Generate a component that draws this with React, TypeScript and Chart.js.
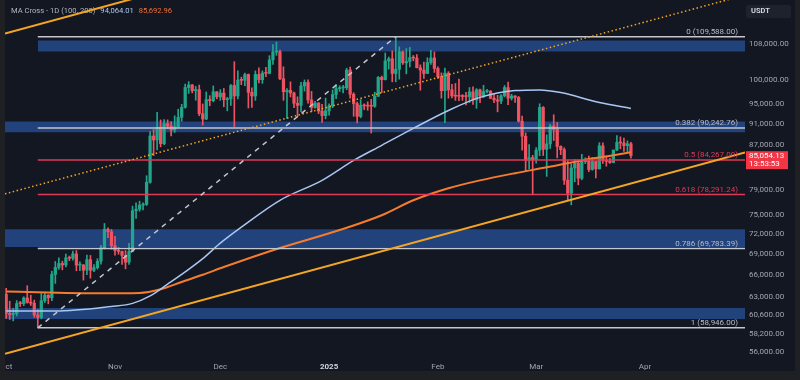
import React, { useEffect, useRef } from "react";
import { Chart, registerables } from "chart.js";

Chart.register(...registerables);

const FONT = "Roboto, 'Noto Sans', sans-serif";

// ---- Daily candles, 1 Oct 2024 (day 0) to 28 Mar 2025 (day 178) ----
const open = [
  63330,60800,60650,60750,62080,62060,62820,62220,62130,60580,60270,62450,63190,62850,66050,67040,67610,67400,68420,68370,69000,67370,67380,66650,68160,66640,67010,67930,69910,72720,72340,
  70220,69500,69370,68780,67800,69360,75640,75900,76550,76680,80370,88700,87960,90380,87270,91050,90590,89850,90460,92310,94290,98350,98890,97670,97900,93010,91960,95860,95640,97460,
  96410,97190,95840,96000,98770,96590,99920,99870,101110,97340,96590,101130,100000,101420,101370,104300,106060,106140,100200,97460,97760,97220,95100,94690,98680,99430,95790,94270,95160,93530,92640,
  93580,94590,96890,98110,98240,98310,102080,96950,95040,92480,94700,94570,94520,94500,96530,100500,99990,104080,104560,101330,102260,106140,103650,103960,104820,104710,102580,102080,101330,103730,104730,
  102430,100650,97690,101400,97870,96620,96550,96530,96480,96470,97430,95780,97870,96610,97500,97570,96120,95770,95540,96630,98340,96130,96580,96280,91550,88650,84250,84710,
  84350,86060,94270,86220,87220,90620,89960,86740,86150,80730,78530,82860,83720,81070,83970,84340,82580,84010,82720,86850,84170,84040,83830,86080,87500,87390,86900,87230,
];
const high = [
  64130,62390,61470,62480,62370,62980,64480,63200,62540,61300,63420,63480,63280,66500,67900,68420,67940,68970,68690,69400,69500,67830,67470,68830,68780,67450,68300,70270,73620,72960,72700,
  71630,69950,69420,69500,70580,76400,76950,77200,76950,81500,89530,89940,93270,91790,91850,91800,91450,92590,93900,94900,99070,99590,98990,98580,98870,94970,97420,96650,98690,97490,
  97900,98150,96300,99000,103900,101900,100550,101400,101230,98270,101900,102540,101890,102650,105250,107790,108350,106520,102800,98150,99540,97400,96420,99420,99960,99960,97540,95500,95230,94900,96150,
  95000,97840,98980,98730,98810,102480,102720,97260,95350,95840,94980,95400,95900,97370,100680,100780,105850,104950,106320,109588,107240,106330,106850,107120,105290,105500,103220,103800,104780,106460,106090,
  102780,101460,102500,101730,99000,99200,100140,96880,97320,98350,98480,98120,98000,98830,97970,97730,97050,96730,96900,98770,99500,96950,96680,96500,92530,89290,87070,85120,
  86560,95000,94420,88910,90990,92810,91280,86870,86500,84120,83620,84360,84300,85300,84670,85000,84750,84020,87450,87440,84780,84570,86100,88770,88540,88290,87790,87510,
];
const low = [
  60160,60000,59830,60460,61690,61800,62130,61820,60280,58946,60090,62210,62040,62450,64800,66750,66700,67130,68010,68100,66570,66570,65260,66000,65520,66450,66800,67520,69730,71440,69700,
  68800,68950,67460,66840,67460,69300,74420,75560,75780,76500,80220,85070,86130,86670,87080,90090,88720,89380,90360,91500,94120,97120,97230,95720,92600,90770,91820,94600,95380,96000,
  95700,94400,93580,94660,90500,95980,98950,98760,94150,94260,95700,99310,99210,100630,101230,103330,105320,100000,95700,92100,96400,94200,92400,93420,97600,95140,93400,94120,93020,91300,92000,
  92740,94200,96020,97530,97240,97900,96130,92500,91200,92200,93830,93700,89260,94300,96500,97300,99950,102280,99550,99550,100120,103300,101250,102750,104100,102520,97780,100270,101300,103300,101560,
  100280,96150,91230,96150,96200,95700,95620,95690,94750,95250,94850,94090,95220,96250,97240,96050,95200,93380,95000,96400,94830,95750,95260,91350,86050,82250,82710,78260,
  83700,85050,85080,81390,86380,87850,84670,85250,80000,77460,76600,80450,79940,80800,83630,82200,82460,81130,82650,83650,83180,83670,83770,85950,86310,85850,85800,84600,
];
const close = [
  60800,60650,60750,62080,62060,62820,62220,62130,60580,60270,62450,63190,62850,66050,67040,67610,67400,68420,68370,69000,67370,67380,66650,68160,66640,67010,67930,69910,72720,72340,70220,
  69500,69370,68780,67800,69360,75640,75900,76550,76680,80370,88700,87960,90380,87270,91050,90590,89850,90460,92310,94290,98350,98890,97670,97900,93010,91960,95860,95640,97460,96410,
  97190,95840,96000,98770,96590,99920,99870,101110,97340,96590,101130,100000,101420,101370,104300,106060,106140,100200,97460,97760,97220,95100,94690,98680,99430,95790,94270,95160,93530,92640,93580,
  94590,96890,98110,98240,98310,102080,96950,95040,92480,94700,94570,94520,94500,96530,100500,99990,104080,104560,101330,102260,106140,103650,103960,104820,104710,102580,102080,101330,103730,104730,102430,
  100650,97690,101400,97870,96620,96550,96530,96480,96470,97430,95780,97870,96610,97500,97570,96120,95770,95540,96630,98340,96130,96580,96280,91550,88650,84250,84710,84350,
  86060,94270,86220,87220,90620,89960,86740,86150,80730,78530,82860,83720,81070,83970,84340,82580,84010,82720,86850,84170,84040,83830,86080,87500,87390,86900,87230,85054.13,
];

// ---- Moving averages (at sample days) ----
const ma100Days = [0, 14, 30, 36, 41, 46, 51, 56, 61, 67, 78, 90, 99, 107, 116, 126, 135, 145, 152, 158, 169, 178];
const ma100Vals = [61100, 61100, 61700, 62100, 63100, 64700, 66400, 68300, 70600, 73050, 77350, 80700, 84200, 86950, 90150, 93650, 96300, 97700, 97850, 97300, 95250, 94064.01];
const ma200Days = [0, 27, 38, 44, 50, 56, 62, 76, 95, 107, 116, 126, 135, 145, 154, 164, 173, 178];
const ma200Vals = [63700, 63450, 63500, 64000, 65000, 66000, 67100, 69550, 72600, 74930, 77350, 79350, 80700, 81950, 82980, 84200, 85120, 85692.96];

// ---- Fibonacci retracement ----
const fibRatios = ["0", "0.382", "0.5", "0.618", "0.786", "1"];
const fibPrices = [109588, 90242.76, 84267, 78291.24, 69783.39, 58946];
const fibIsRed = [false, false, true, true, false, false];
const fibStartDay = 9;
const fibEndDay = 111;

// ---- Zones ----
const zoneStartDays = [9, -0.34, -0.34, -0.34];
const zoneTops = [108690, 91500, 72740, 61500];
const zoneBottoms = [106180, 89400, 70010, 60070];

// ---- Trend lines (day, price) ----
const channelLowDays = [-0.34, 210.5];
const channelLowPrices = [55770, 85660];
const channelHighDays = [-0.34, 70];
const channelHighPrices = [110320, 127290];
const dottedDays = [-0.34, 210.5];
const dottedPrices = [78420, 119730];

// ---- Axes ----
const monthTickDays = [0, 31, 61, 92, 123, 151, 182];
const monthTickLabels = ["Oct", "Nov", "Dec", "2025", "Feb", "Mar", "Apr"];
const priceTicks = [56000, 58200, 60600, 63000, 66000, 69000, 72000, 75000, 79000, 87000, 91000, 95000, 100000, 108000];
const lastPrice = 85054.13;
const countdown = "13:53:53";

const X_MIN = -0.34;
const X_MAX = 210.5;
const Y_MIN = 55280;
const Y_MAX = 118500;

const GREEN = "#22a68b";
const RED = "#ef5361";
const BG = "#131722";
const FRAME = "#1f2023";
const ZONE = "#22427b";
const FIB_WHITE = "#c3c6ce";
const FIB_RED = "#e03a57";
const TREND = "#f5a524";
const MA100_COLOR = "#a9c7f2";
const MA200_COLOR = "#f57c2e";
const AXIS_TEXT = "#a3a6af";

const fmt2 = (v: number) => v.toLocaleString("en-US", { minimumFractionDigits: 2, maximumFractionDigits: 2 });

const overlayPlugin = {
  id: "overlay",
  beforeDraw(chart: any) {
    const { ctx, width, height } = chart;
    ctx.save();
    ctx.fillStyle = FRAME;
    ctx.fillRect(0, 0, width, height);
    ctx.fillStyle = BG;
    ctx.fillRect(5, 0, 790, 371);
    ctx.restore();
  },
  beforeDatasetsDraw(chart: any) {
    const { ctx } = chart;
    ctx.save();
    ctx.font = `7.6px ${FONT}`;
    ctx.textBaseline = "middle";
    ctx.textAlign = "left";
    let x = 11;
    const parts: [string, string][] = [
      ["MA Cross - 1D (100, 200)", "#b2b5be"],
      [fmt2(ma100Vals[ma100Vals.length - 1]), MA100_COLOR],
      [fmt2(ma200Vals[ma200Vals.length - 1]), "#f0703a"],
    ];
    parts.forEach(([t, c]) => {
      ctx.fillStyle = c;
      ctx.fillText(t, x, 11);
      x += ctx.measureText(t).width + 5;
    });
    ctx.restore();
  },
  afterDraw(chart: any) {
    const { ctx, chartArea, scales } = chart;
    const y = scales.y;
    ctx.save();
    ctx.fillStyle = FRAME;
    ctx.fillRect(0, 0, 5, 380);
    ctx.font = `8px ${FONT}`;
    ctx.textAlign = "right";
    ctx.textBaseline = "alphabetic";
    fibPrices.forEach((p, i) => {
      const py = y.getPixelForValue(p);
      ctx.fillStyle = fibIsRed[i] ? FIB_RED : "#b8bcc6";
      ctx.fillText(`${fibRatios[i]} (${fmt2(p)})`, chartArea.right - 7, py - 3);
    });
    ctx.fillStyle = "#1e222d";
    ctx.beginPath();
    (ctx as any).roundRect(746, 5, 45, 13, 2);
    ctx.fill();
    ctx.fillStyle = "#d1d4dc";
    ctx.textAlign = "left";
    ctx.textBaseline = "middle";
    ctx.font = `bold 7.5px ${FONT}`;
    ctx.fillText("USDT", 751, 11.5);
    const yp = y.getPixelForValue(lastPrice);
    ctx.fillStyle = "#f23645";
    ctx.fillRect(746, yp - 4.5, 42, 18);
    ctx.fillStyle = "#ffffff";
    ctx.font = `8px ${FONT}`;
    ctx.fillText(fmt2(lastPrice), 749, yp + 0.5);
    ctx.fillText(countdown, 749, yp + 8.5);
    ctx.restore();
  },
};

function lineSet(days: number[], vals: number[], extra: any) {
  return {
    type: "line",
    data: days.map((d, i) => ({ x: d, y: vals[i] })),
    pointRadius: 0,
    fill: false,
    ...extra,
  };
}

export default function App() {
  const ref = useRef<HTMLCanvasElement>(null);
  useEffect(() => {
    const candleColors = close.map((c, i) => (c >= open[i] ? GREEN : RED));
    const datasets: any[] = [];
    zoneTops.forEach((t, i) => {
      datasets.push(
        lineSet([zoneStartDays[i], X_MAX], [t, t], {
          borderWidth: 0,
          fill: { value: zoneBottoms[i] },
          backgroundColor: ZONE,
          order: 20,
        })
      );
    });
    datasets.push({
      type: "bar",
      data: open.map((_, i) => ({ x: i, y: [low[i], high[i]] })),
      backgroundColor: candleColors,
      barThickness: 1,
      grouped: false,
      order: 10,
    });
    datasets.push({
      type: "bar",
      data: open.map((o, i) => ({ x: i, y: [o, close[i]] })),
      backgroundColor: candleColors,
      barThickness: 2.6,
      minBarLength: 1,
      grouped: false,
      order: 9,
    });
    datasets.push(lineSet(ma100Days, ma100Vals, { borderColor: MA100_COLOR, borderWidth: 1.5, cubicInterpolationMode: "monotone", order: 5 }));
    datasets.push(lineSet(ma200Days, ma200Vals, { borderColor: MA200_COLOR, borderWidth: 2, cubicInterpolationMode: "monotone", order: 5 }));
    fibPrices.forEach((p, i) => {
      datasets.push(
        lineSet([fibStartDay, X_MAX], [p, p], {
          borderColor: fibIsRed[i] ? FIB_RED : FIB_WHITE,
          borderWidth: 1.5,
          order: 4,
        })
      );
    });
    datasets.push(
      lineSet([fibStartDay, fibEndDay], [fibPrices[5], fibPrices[0]], {
        borderColor: FIB_WHITE,
        borderWidth: 1.5,
        borderDash: [5, 5],
        order: 3,
      })
    );
    datasets.push(lineSet(dottedDays, dottedPrices, { borderColor: TREND, borderWidth: 1.5, borderDash: [1.5, 2.5], order: 2 }));
    datasets.push(lineSet(channelLowDays, channelLowPrices, { borderColor: TREND, borderWidth: 2, order: 1 }));
    datasets.push(lineSet(channelHighDays, channelHighPrices, { borderColor: TREND, borderWidth: 2, order: 1 }));

    const chart = new Chart(ref.current as HTMLCanvasElement, {
      type: "bar",
      data: { datasets },
      options: {
        animation: false,
        responsive: false,
        devicePixelRatio: 1,
        events: [],
        layout: { padding: { left: 5, right: 5, top: 0, bottom: 8 } },
        plugins: { legend: { display: false }, tooltip: { enabled: false } },
        scales: {
          x: {
            type: "linear",
            min: X_MIN,
            max: X_MAX,
            offset: false,
            bounds: "data",
            grid: { display: false, drawTicks: false },
            border: { display: false },
            afterBuildTicks: (s: any) => {
              s.ticks = monthTickDays.map((v) => ({ value: v }));
            },
            afterFit: (s: any) => {
              s.height = 14;
              s.paddingLeft = 0;
              s.paddingRight = 0;
            },
            ticks: {
              autoSkip: false,
              maxRotation: 0,
              minRotation: 0,
              padding: 4,
              color: (c: any) => (c.index === 3 ? "#d1d4dc" : AXIS_TEXT),
              font: (c: any) => ({ size: 8, family: FONT, weight: c.index === 3 ? "bold" : "normal" }),
              callback: (_v: any, i: number) => monthTickLabels[i],
            },
          },
          y: {
            type: "logarithmic",
            position: "right",
            min: Y_MIN,
            max: Y_MAX,
            bounds: "data",
            beginAtZero: false,
            grid: { display: false, drawTicks: false },
            border: { display: false },
            afterBuildTicks: (s: any) => {
              s.ticks = priceTicks.map((v) => ({ value: v }));
            },
            afterFit: (s: any) => {
              s.width = 50;
              s.paddingTop = 0;
              s.paddingBottom = 0;
            },
            ticks: {
              autoSkip: false,
              padding: 4,
              color: AXIS_TEXT,
              font: { size: 8, family: FONT },
              callback: (v: any) => fmt2(Number(v)),
            },
          },
        },
      } as any,
      plugins: [overlayPlugin],
    } as any);
    return () => chart.destroy();
  }, []);
  return (
    <div style={{ position: "fixed", left: 0, top: 0, width: 800, height: 380 }}>
      <canvas ref={ref} width={800} height={380} style={{ display: "block" }} />
    </div>
  );
}
